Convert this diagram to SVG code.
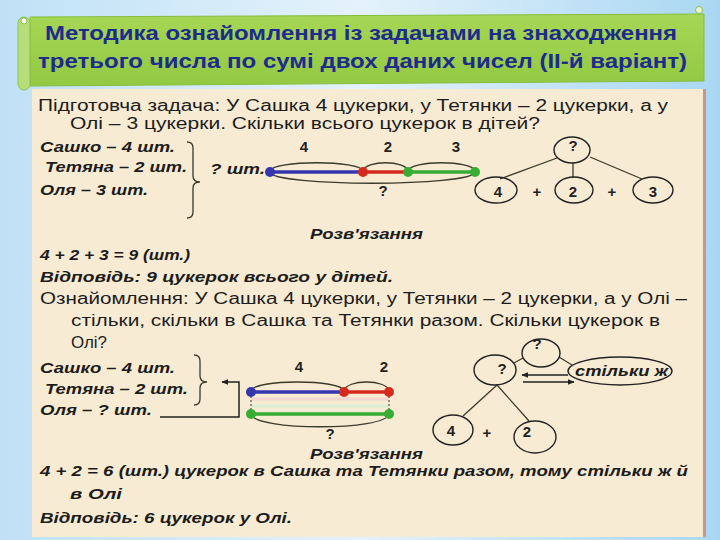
<svg xmlns="http://www.w3.org/2000/svg" width="720" height="540" viewBox="0 0 720 540">
<defs>
<linearGradient id="bg" x1="0" y1="0" x2="1" y2="0">
<stop offset="0" stop-color="#bfe1f6"/>
<stop offset="0.5" stop-color="#e4f2fb"/>
<stop offset="1" stop-color="#a9d7f2"/>
</linearGradient>
<linearGradient id="ban" x1="0" y1="0" x2="0" y2="1">
<stop offset="0" stop-color="#a6d655"/>
<stop offset="1" stop-color="#93c943"/>
</linearGradient>
<marker id="ah" viewBox="0 0 10 10" refX="9" refY="5" markerWidth="7" markerHeight="7" orient="auto" markerUnits="userSpaceOnUse">
<path d="M0,1 L10,5 L0,9 z" fill="#222"/>
</marker>
<style>
.t{font-family:"Liberation Sans",Arial,sans-serif;fill:#1c1c1c}
.r{font-size:16px}
.bi{font-size:15px;font-weight:bold;font-style:italic}
.title{font-family:"Liberation Sans",Arial,sans-serif;font-size:20px;font-weight:bold;fill:#1d2b8f}
.num{font-family:"Liberation Sans",Arial,sans-serif;font-size:15px;font-weight:bold;fill:#222}
.ln{fill:none;stroke:#3a3a2a;stroke-width:1.3}
.el{fill:none;stroke:#222;stroke-width:1.4}
.blue{stroke:#3535b0;stroke-width:3.5}
.red{stroke:#d42a1e;stroke-width:3.5}
.green{stroke:#37ad33;stroke-width:3.5}
</style>
</defs>
<rect x="0" y="0" width="720" height="540" fill="url(#bg)"/>
<!-- banner -->
<g id="banner">
<path d="M30,17 L704,14 L704,81 L30,86 Z" fill="url(#ban)" stroke="#86bd3c" stroke-width="1"/>
<rect x="18" y="17" width="12" height="73" rx="6" fill="#b7de7a" stroke="#8cc247" stroke-width="1"/>
<circle cx="24" cy="21" r="3" fill="#fff" stroke="#8cc247"/>
<circle cx="699" cy="10" r="3.5" fill="#e9f5d5" stroke="#8cc247"/>
<text class="title" x="45" y="40" textLength="632" lengthAdjust="spacingAndGlyphs">Методика ознайомлення із задачами на знаходження</text>
<text class="title" x="38" y="68" textLength="649" lengthAdjust="spacingAndGlyphs">третього числа по сумі двох даних чисел (ІІ-й варіант)</text>
</g>
<!-- content panel -->
<rect x="32" y="89" width="672" height="448" fill="#f7ebd3"/>
<line x1="704.5" y1="89" x2="704.5" y2="537" stroke="#c9968a" stroke-width="3"/>
<g id="text">
<text class="t r" x="38" y="111" textLength="630" lengthAdjust="spacingAndGlyphs">Підготовча задача: У Сашка 4 цукерки, у Тетянки – 2 цукерки, а у</text>
<text class="t r" x="70" y="129" textLength="470" lengthAdjust="spacingAndGlyphs">Олі – 3 цукерки. Скільки всього цукерок в дітей?</text>
<text class="t bi" x="40" y="152" textLength="135" lengthAdjust="spacingAndGlyphs">Сашко – 4 шт.</text>
<text class="t bi" x="45" y="172" textLength="142" lengthAdjust="spacingAndGlyphs">Тетяна – 2 шт.</text>
<text class="t bi" x="40" y="195" textLength="108" lengthAdjust="spacingAndGlyphs">Оля – 3 шт.</text>
<text class="t bi" x="210" y="174" textLength="55" lengthAdjust="spacingAndGlyphs">? шт.</text>
<text class="t bi" x="310" y="239" textLength="113" lengthAdjust="spacingAndGlyphs">Розв'язання</text>
<text class="t bi" x="40" y="260" textLength="150" lengthAdjust="spacingAndGlyphs">4 + 2 + 3 = 9 (шт.)</text>
<text class="t bi" x="40" y="282" textLength="353" lengthAdjust="spacingAndGlyphs">Відповідь: 9 цукерок всього у дітей.</text>
<text class="t r" x="40" y="304" textLength="647" lengthAdjust="spacingAndGlyphs">Ознайомлення: У Сашка 4 цукерки, у Тетянки – 2 цукерки, а у  Олі –</text>
<text class="t r" x="71" y="326" textLength="589" lengthAdjust="spacingAndGlyphs">стільки, скільки в Сашка та Тетянки разом. Скільки цукерок в</text>
<text class="t r" x="71" y="348" textLength="36" lengthAdjust="spacingAndGlyphs">Олі?</text>
<text class="t bi" x="40" y="373" textLength="135" lengthAdjust="spacingAndGlyphs">Сашко – 4 шт.</text>
<text class="t bi" x="45" y="394" textLength="143" lengthAdjust="spacingAndGlyphs">Тетяна – 2 шт.</text>
<text class="t bi" x="40" y="415" textLength="112" lengthAdjust="spacingAndGlyphs">Оля – ? шт.</text>
<text class="t bi" x="310" y="459" textLength="113" lengthAdjust="spacingAndGlyphs">Розв'язання</text>
<text class="t bi" x="40" y="476" textLength="648" lengthAdjust="spacingAndGlyphs">4 + 2 = 6 (шт.) цукерок в Сашка та Тетянки разом, тому стільки ж й</text>
<text class="t bi" x="70" y="499" textLength="52" lengthAdjust="spacingAndGlyphs">в Олі</text>
<text class="t bi" x="40" y="523" textLength="252" lengthAdjust="spacingAndGlyphs">Відповідь: 6 цукерок у Олі.</text>
</g>
<!-- segment diagram 1 -->
<g id="segments1">
<path class="ln" d="M270,171 C272,160 361,160 363,171"/>
<path class="ln" d="M363,171 C365,160 406,160 408,171"/>
<path class="ln" d="M408,171 C410,160 473,160 475,171"/>
<path class="ln" d="M270,172 C273,187 472,187 475,172"/>
<line class="blue" x1="270" y1="172" x2="363" y2="172"/>
<line class="red" x1="363" y1="172" x2="408" y2="172"/>
<line class="green" x1="408" y1="172" x2="475" y2="172"/>
<circle cx="270" cy="172" r="5" fill="#3535b0"/>
<circle cx="363" cy="172" r="5" fill="#d42a1e"/>
<circle cx="408" cy="172" r="5" fill="#37ad33"/>
<circle cx="475" cy="172" r="5" fill="#37ad33"/>
<text class="num" x="304" y="152" text-anchor="middle">4</text>
<text class="num" x="388" y="152" text-anchor="middle">2</text>
<text class="num" x="456" y="152" text-anchor="middle">3</text>
<text class="num" x="383" y="196" text-anchor="middle">?</text>
</g>
<path id="brace1" class="ln" d="M187,142 Q193,142 193,148 L193,176 Q193,182 200,182 Q193,182 193,188 L193,212 Q193,218 187,218"/>
<!-- tree 1 -->
<g id="connectors1">
<line class="ln" x1="557" y1="158" x2="500" y2="179"/>
<line class="ln" x1="573" y1="163" x2="573" y2="178"/>
<line class="ln" x1="590" y1="157" x2="642" y2="179"/>
</g>
<g id="t1-top"><ellipse class="el" cx="572" cy="150" rx="18" ry="13"/><text class="num" x="573" y="151" text-anchor="middle">?</text></g>
<g id="t1-4"><ellipse class="el" cx="496" cy="190" rx="21" ry="13"/><text class="num" x="498" y="197" text-anchor="middle">4</text></g>
<g id="t1-2"><ellipse class="el" cx="574" cy="190" rx="19" ry="13"/><text class="num" x="573" y="197" text-anchor="middle">2</text></g>
<g id="t1-3"><ellipse class="el" cx="653" cy="190" rx="20" ry="13"/><text class="num" x="653" y="197" text-anchor="middle">3</text></g>
<text class="num" x="537" y="197" text-anchor="middle" font-size="12">+</text>
<text class="num" x="612" y="197" text-anchor="middle" font-size="12">+</text>
<!-- segment diagram 2 -->
<g id="segments2">
<line x1="251" y1="399" x2="389" y2="399" stroke="#f3d7cf" stroke-width="3"/>
<line x1="251" y1="406" x2="389" y2="406" stroke="#dcefd6" stroke-width="3"/>
<path class="ln" d="M251,391 C253,379 342,379 344,391"/>
<path class="ln" d="M344,391 C346,379 387,379 389,391"/>
<path class="ln" d="M251,414 C254,431 386,431 389,414"/>
<line x1="251" y1="392" x2="251" y2="414" stroke="#333" stroke-width="1" stroke-dasharray="2,2"/>
<line x1="389" y1="392" x2="389" y2="414" stroke="#333" stroke-width="1" stroke-dasharray="2,2"/>
<line class="blue" x1="251" y1="392" x2="344" y2="392"/>
<line class="red" x1="344" y1="392" x2="389" y2="392"/>
<line class="green" x1="251" y1="414" x2="389" y2="414"/>
<circle cx="251" cy="392" r="5" fill="#3535b0"/>
<circle cx="344" cy="392" r="5" fill="#d42a1e"/>
<circle cx="389" cy="392" r="5" fill="#d42a1e"/>
<circle cx="251" cy="414" r="5" fill="#37ad33"/>
<circle cx="389" cy="414" r="5" fill="#37ad33"/>
<text class="num" x="299" y="372" text-anchor="middle">4</text>
<text class="num" x="384" y="372" text-anchor="middle">2</text>
<text class="num" x="330" y="439" text-anchor="middle">?</text>
</g>
<path id="brace2" class="ln" d="M194,355 Q200,355 200,361 L200,376 Q200,382 207,382 Q200,382 200,388 L200,399 Q200,405 194,405"/>
<path id="arrow2" d="M160,417 L239,417 L239,382 L222,382" fill="none" stroke="#222" stroke-width="1.5" marker-end="url(#ah)"/>
<!-- tree 2 -->
<g id="connectors2">
<line class="ln" x1="523" y1="358" x2="514" y2="363"/>
<line class="ln" x1="559" y1="357" x2="572" y2="365"/>
<line class="ln" x1="497" y1="385" x2="463" y2="416"/>
<line class="ln" x1="497" y1="385" x2="529" y2="421"/>
<line x1="568" y1="375" x2="522" y2="375" stroke="#222" stroke-width="1.5" marker-end="url(#ah)"/>
<line x1="523" y1="382" x2="574" y2="382" stroke="#222" stroke-width="1.5" marker-end="url(#ah)"/>
</g>
<g id="t2-top"><ellipse class="el" cx="541" cy="353" rx="19" ry="14"/><text class="num" x="537" y="349" text-anchor="middle" fill="#2a2a70">?</text></g>
<g id="t2-left"><ellipse class="el" cx="495" cy="370" rx="21" ry="15"/><text class="num" x="502" y="374" text-anchor="middle">?</text></g>
<g id="t2-stilky"><ellipse class="el" cx="620" cy="371" rx="52" ry="14"/><text class="t bi" x="575" y="376" textLength="93" lengthAdjust="spacingAndGlyphs" fill="#22224a">стільки ж</text></g>
<g id="t2-4"><ellipse class="el" cx="453" cy="430" rx="20" ry="15"/><text class="num" x="451" y="436" text-anchor="middle">4</text></g>
<g id="t2-2"><ellipse class="el" cx="535" cy="437" rx="21" ry="16"/><text class="num" x="527" y="437" text-anchor="middle">2</text></g>
<text class="num" x="487" y="438" text-anchor="middle" font-size="13" font-weight="normal">+</text>
</svg>
